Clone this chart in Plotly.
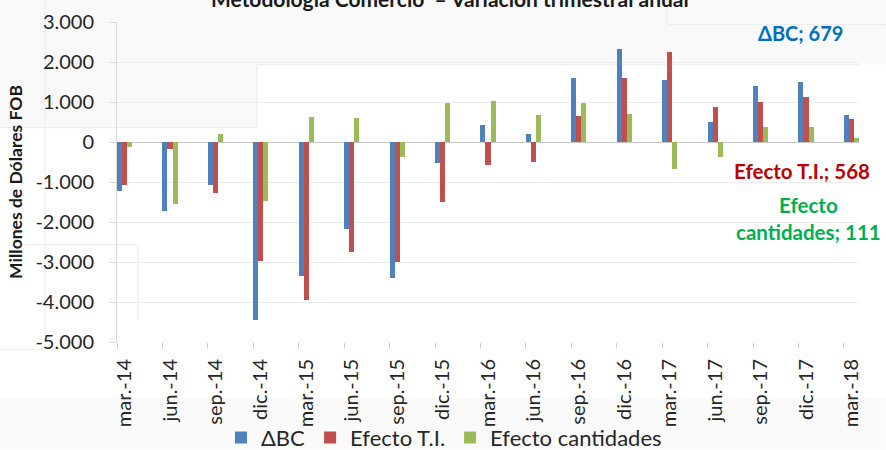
import plotly.graph_objects as go

categories = ["mar.-14", "jun.-14", "sep.-14", "dic.-14", "mar.-15", "jun.-15", "sep.-15", "dic.-15",
              "mar.-16", "jun.-16", "sep.-16", "dic.-16", "mar.-17", "jun.-17", "sep.-17", "dic.-17", "mar.-18"]
delta_bc = [-1217, -1735, -1067, -4460, -3342, -2167, -3392, -525,
            432, 200, 1608, 2317, 1558, 500, 1392, 1508, 679]
efecto_ti = [-1085, -167, -1275, -2983, -3958, -2758, -3000, -1508,
             -583, -492, 642, 1608, 2250, 875, 1008, 1133, 568]
efecto_cant = [-135, -1560, 208, -1483, 617, 600, -383, 975,
               1017, 683, 967, 708, -683, -375, 383, 375, 111]
y_tickvals = [3000, 2000, 1000, 0, -1000, -2000, -3000, -4000, -5000]
y_ticktext = ["3.000", "2.000", "1.000", "0", "-1.000", "-2.000", "-3.000", "-4.000", "-5.000"]

FONT = "Lato"
W, H = 886, 450
L, R, T, B = 117, 859.3, 22.3, 342.3

# month slots: each quarter at every 3rd month slot
xpos = [3 * i for i in range(len(categories))]

def px(x):
    return (x - L) / (R - L)

def py(y):
    return (B - y) / (B - T)

fig = go.Figure()
series = [("ΔBC", delta_bc, "#4F81BD"), ("Efecto T.I.", efecto_ti, "#C0504D"),
          ("Efecto cantidades", efecto_cant, "#9BBB59")]
bw = 1 / 3
for k, (name, vals, col) in enumerate(series):
    fig.add_trace(go.Bar(x=xpos, y=vals, name=name, marker_color=col,
                         marker_line_width=0, width=bw, offset=-0.5 + k * bw))

shapes = []
def rect(x0, y0, x1, y1, fill):
    shapes.append(dict(type="rect", xref="paper", yref="paper", x0=px(x0), x1=px(x1),
                       y0=py(y1), y1=py(y0), fillcolor=fill, line_width=0, layer="below"))

def line(x0, y0, x1, y1, col="#ebebeb"):
    shapes.append(dict(type="line", xref="paper", yref="paper", x0=px(x0), x1=px(x1),
                       y0=py(y0), y1=py(y1), line=dict(color=col, width=1), layer="below"))

rect(0, 0, 886, 65, "#f9f9f9")
rect(0, 65, 257, 128, "#f9f9f9")
rect(0, 398, 886, 450, "#fafafa")
line(257, 65, 860, 65)
line(257, 65, 257, 128)
line(0, 128, 257, 128)
line(45, 0, 45, 350)
line(0, 350, 45, 350)
line(10, 245, 138, 245)
line(138, 245, 138, 320)
line(667, 0, 667, 25)
line(667, 25, 886, 25)

annotations = [
    dict(text="<b>Metodología Comercio  – Variación trimestral anual</b>", xref="paper", yref="paper",
         x=px(450), y=1, xanchor="center", yanchor="bottom", yshift=9, showarrow=False,
         font=dict(family=FONT, size=21, color="#1a1a1a")),
    dict(text="<b>ΔBC; 679</b>", xref="paper", yref="paper", x=px(800.5), y=py(33),
         xanchor="center", yanchor="middle", showarrow=False,
         font=dict(family=FONT, size=20, color="#0070C0")),
    dict(text="<b>Efecto T.I.; 568</b>", xref="paper", yref="paper", x=px(802.4), y=py(171.7),
         xanchor="center", yanchor="middle", showarrow=False,
         font=dict(family=FONT, size=20.5, color="#C00000")),
    dict(text="<b>Efecto<br>cantidades; 111</b>", xref="paper", yref="paper", x=px(809), y=py(219.2),
         xanchor="center", yanchor="middle", showarrow=False,
         font=dict(family=FONT, size=20.5, color="#00B050")),
]

fig.update_layout(
    width=W, height=H,
    margin=dict(l=L, r=W - R, t=T, b=H - B, pad=0, autoexpand=False),
    paper_bgcolor="#ffffff", plot_bgcolor="rgba(0,0,0,0)",
    barmode="overlay", bargap=0,
    font=dict(family=FONT, color="#262626"),
    shapes=shapes, annotations=annotations,
    legend=dict(orientation="h", x=px(221), y=py(438), xanchor="left", yanchor="middle",
                font=dict(family=FONT, size=22, color="#262626"), bgcolor="rgba(0,0,0,0)",
                traceorder="normal"),
    showlegend=True,
)
fig.update_xaxes(
    range=[-0.5, 48.5], tickvals=xpos, ticktext=categories, tickangle=-90,
    ticks="", showgrid=False, zeroline=False,
    showline=False, automargin=False,
    tickfont=dict(family=FONT, size=20, color="#262626"),
    ticklabelstandoff=12,
    minor=dict(tick0=-0.5, dtick=3, ticks="outside", ticklen=5, tickcolor="#d0d0d0", showgrid=False),
)
fig.update_yaxes(
    range=[-5000, 3000], tickvals=y_tickvals, ticktext=y_ticktext,
    showgrid=True, gridcolor="#ececec", gridwidth=1,
    zeroline=True, zerolinecolor="#c8c8c8", zerolinewidth=1,
    showline=True, linecolor="#d9d9d9", linewidth=1,
    ticks="outside", ticklen=6, tickcolor="#d9d9d9",
    ticklabelstandoff=12, automargin=False,
    tickfont=dict(family=FONT, size=20, color="#262626"),
    title=dict(text="<b>Millones de Dólares FOB</b>", standoff=8,
               font=dict(family=FONT, size=17.5, color="#1a1a1a")),
)

fig.write_html("out.html", config={"displayModeBar": False},
               post_script="document.body.style.margin='0';")
